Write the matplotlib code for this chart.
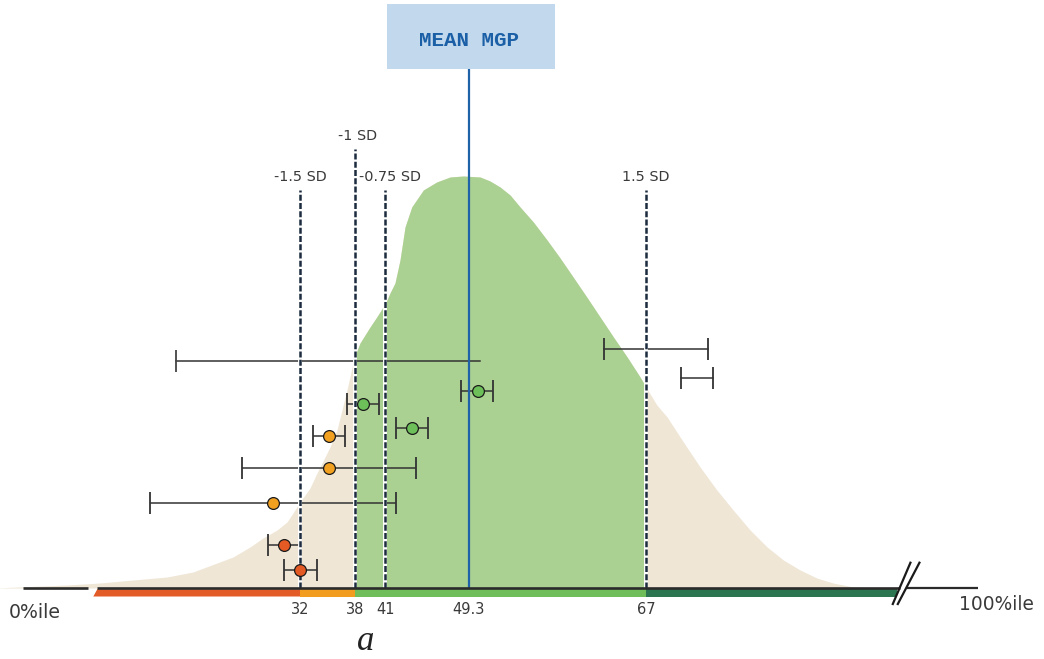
import numpy as np
import matplotlib
matplotlib.use("Agg")
import matplotlib.pyplot as plt
from matplotlib.patches import Rectangle, Polygon

# ---------------- data ----------------
# density curve (percentile position, relative height)
curve_x = [1.5, 3.67, 8.67, 11.97, 15.27, 18.67, 21.27, 23.67, 25.27, 26.97, 28.27,
           29.67, 30.67, 31.27, 31.97, 33.06, 33.82, 35.24, 36.0, 37.09, 37.75,
           38.0, 38.47, 39.47, 40.14, 41.03, 41.46, 41.96, 42.46, 42.96, 43.63,
           44.79, 46.12, 47.45, 48.78, 50.45, 51.44, 52.44, 53.44, 54.44, 55.76,
           57.13, 58.43, 59.73, 61.09, 62.42, 63.75, 65.12, 66.41, 67.0, 68.08,
           69.11, 70.73, 72.4, 74.07, 75.7, 77.39, 79.09, 80.71, 82.38, 84.05,
           85.67, 87.67, 90.36]
curve_h = [0, 1, 3, 5, 8, 11, 16, 25, 31, 41, 50,
           58, 66, 75, 86, 100, 115, 141, 158, 198, 225,
           233, 245, 261, 271, 285, 295, 305, 328, 361, 381,
           398, 406, 411, 412, 411, 407, 401, 393, 381, 366,
           348, 330, 311, 291, 271, 251, 231, 211, 201, 183,
           171, 146, 121, 98, 78, 58, 41, 28, 18, 10,
           5, 1, 0]

mean_mgp = 49.3
sd_values = [32, 38, 41, 67]
sd_labels = ["-1.5 SD", "-1 SD", "-0.75 SD", "1.5 SD"]
tick_values = [32, 38, 41, 49.3, 67]
tick_labels = ["32", "38", "41", "49.3", "67"]

# intervals without a point estimate
range_lo = [19.54, 62.82, 70.5]
range_hi = [50.44, 73.16, 73.73]
range_row = [227, 239, 210]

# intervals with point estimates
pt_x = [50.28, 38.8, 43.66, 35.13, 35.13, 29.24, 30.34, 32.0]
pt_lo = [48.55, 37.13, 42.03, 33.39, 26.2, 16.97, 28.74, 30.4]
pt_hi = [51.74, 40.4, 45.29, 36.91, 44.06, 42.03, 32.04, 33.79]
pt_row = [197, 184, 160, 152, 120, 85, 43, 18]
pt_band = ["green", "green", "green", "orange", "orange", "orange", "red", "red"]

band_edges = [11.5, 32, 38, 67, 92.0]
band_names = ["red", "orange", "green", "dark"]

# ---------------- style ----------------
BEIGE = "#efe6d6"
GREEN_FILL = "#abd192"
BLUE = "#1f62a8"
DASH = "#1c2b3e"
TXT = "#3a3a3a"
band_col = {"red": "#e35b27", "orange": "#f29d1f", "green": "#6fbe59", "dark": "#2b7650"}
pt_col = {"red": "#e35a24", "orange": "#f2a020", "green": "#6cbf59"}

plt.rcParams['font.family'] = ['DejaVu Sans']

# piecewise-linear horizontal scale matching the illustration
xp = [-100, 32, 38, 67, 200]
fp = [-1019.7, 300.3, 355.3, 646.0, 1978.7]
def fwd(v):
    return np.interp(v, xp, fp)
def inv(p):
    return np.interp(p, fp, xp)

fig = plt.figure(figsize=(10.44, 6.59), dpi=100)
ax = fig.add_axes([0, 0, 1, 1])
ax.set_xscale('function', functions=(fwd, inv))
ax.set_xlim(1.97, 106.72)
ax.set_ylim(-71, 588)
ax.axis('off')

cx = np.array(curve_x)
ch = np.array(curve_h)
ax.fill_between(cx, 0, ch, color=BEIGE, lw=0, zorder=1)
m = (cx >= 38) & (cx <= 67)
ax.fill_between(cx[m], 0, ch[m], color=GREEN_FILL, lw=0, zorder=2)

# SD dashed lines
sd_tops = [398, 439, 398, 398]
for v, top in zip(sd_values, sd_tops):
    ax.plot([v, v], [0, top], color="white", lw=2.8, zorder=4, solid_capstyle='butt')
    ax.plot([v, v], [0, top], color=DASH, lw=1.8, zorder=5,
            dashes=(2.4, 0.9))
sd_lab_y = [411, 452, 411, 411]
sd_off = [0, 2, 5, 0]
for v, lab, y, off in zip(sd_values, sd_labels, sd_lab_y, sd_off):
    ax.annotate(lab, (v, y), xytext=(off * 0.72, 0), textcoords='offset points',
                ha='center', va='center', fontsize=10.4, color=TXT, zorder=6)

# mean line and box
ax.plot([mean_mgp, mean_mgp], [0, 519], color=BLUE, lw=1.6, zorder=6)
ax.add_patch(Rectangle((41.15, 519), 16.77, 65, facecolor="#c2d8ec", edgecolor="none", zorder=6))
ax.text(49.3, 547, "MEAN MGP", ha='center', va='center', fontsize=15,
        family='Liberation Mono', fontweight='bold', color="#1b5fa6", zorder=7)

# axis line and break
ax.plot([4.3, 10.8], [0, 0], color="#2b2b2b", lw=1.9, zorder=7, solid_capstyle='butt')
ax.plot([11.7, 92.33], [0, 0], color="#2b2b2b", lw=1.9, zorder=7, solid_capstyle='butt')
ax.plot([93.0, 100.1], [0, 0], color="#2b2b2b", lw=1.6, zorder=7, solid_capstyle='butt')
ax.plot([91.63, 93.39], [-16, 25.3], color="#1a1a1a", lw=1.6, zorder=8)
ax.plot([92.13, 94.29], [-16, 25.3], color="#1a1a1a", lw=1.6, zorder=8)

# colored band below axis
for i, name in enumerate(band_names):
    a, b = band_edges[i], band_edges[i + 1]
    if i == 0:
        verts = [(a - 0.2, -8.5), (a + 0.2, -1.2), (b, -1.2), (b, -8.5)]
    else:
        verts = [(a, -8.5), (a, -1.2), (b, -1.2), (b, -8.5)]
    ax.add_patch(Polygon(verts, closed=True, facecolor=band_col[name],
                         edgecolor='none', zorder=6))

# tick labels
for v, lab in zip(tick_values, tick_labels):
    ax.text(v, -21, lab, ha='center', va='center', fontsize=10.5, color=TXT, zorder=8)
ax.text(5.47, -25, "0%ile", ha='center', va='center', fontsize=13.6, color=TXT)
ax.text(98.25, -17, "100%ile", ha='left', va='center', fontsize=13.4, color=TXT)
ax.text(39.07, -54, "a", ha='center', va='center', fontsize=25, color="#222222",
        family='Liberation Serif', style='italic')

# intervals without point estimates
ax.plot([range_lo[0], range_hi[0]], [range_row[0]] * 2, color="#333333", lw=1.1, zorder=3)
ax.plot([range_lo[0]], [range_row[0]], marker='|', markersize=16, mew=1.3, color="#444444", zorder=3)
for lo, hi, r in zip(range_lo[1:], range_hi[1:], range_row[1:]):
    ax.plot([lo, hi], [r, r], color="#333333", lw=1.1, zorder=3)
    ax.plot([lo, hi], [r, r], ls='none', marker='|', markersize=16, mew=1.3, color="#333333", zorder=3)

# intervals with point estimates
for x, lo, hi, r, band in zip(pt_x, pt_lo, pt_hi, pt_row, pt_band):
    ax.errorbar([x], [r], xerr=[[x - lo], [hi - x]], fmt='none', ecolor="#333333",
                elinewidth=1.1, capsize=8, capthick=1.3, zorder=3)
    ax.plot([x], [r], 'o', markersize=8.5, markerfacecolor=pt_col[band],
            markeredgecolor="#1a1a1a", markeredgewidth=0.9, zorder=9)

fig.savefig("out.png", dpi=100)
